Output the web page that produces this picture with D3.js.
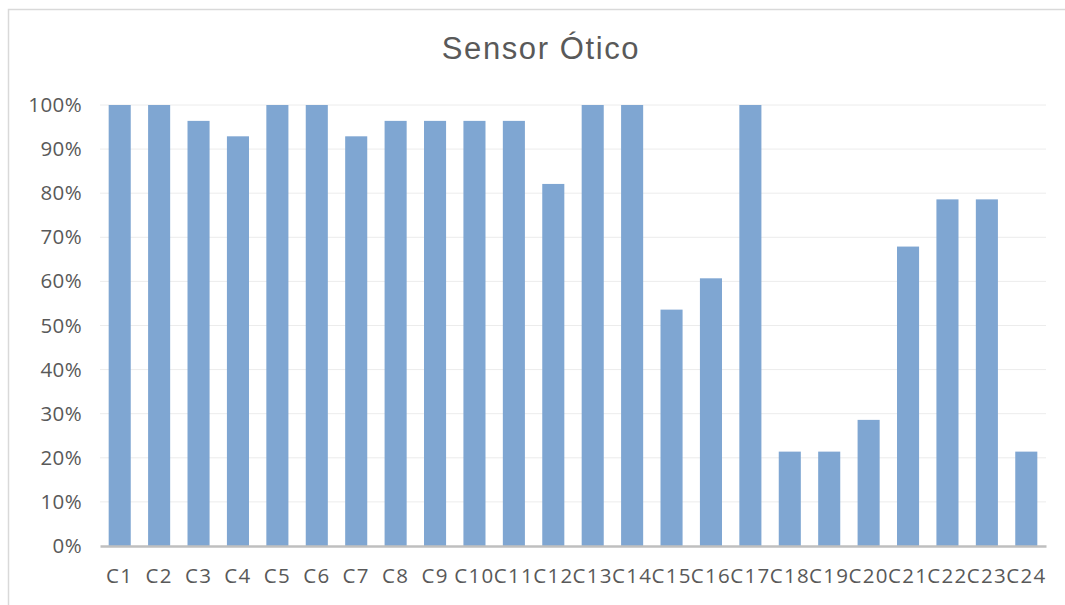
<!DOCTYPE html>
<html>
<head>
<meta charset="utf-8">
<script src="https://cdn.jsdelivr.net/npm/d3@7"></script>
<style>
  body { margin: 0; background: #fff; }
  text { font-family: "Open Sans", sans-serif; fill: #595959; }
</style>
</head>
<body>
<div id="main-container"></div>
<script>
const WIDTH = 1065;
const HEIGHT = 605;
const TITLE = 'Sensor Ótico';
const BAR_COLOR = '#7fa6d2';

const CATEGORIES = ['C1', 'C2', 'C3', 'C4', 'C5', 'C6', 'C7', 'C8', 'C9', 'C10', 'C11', 'C12',
  'C13', 'C14', 'C15', 'C16', 'C17', 'C18', 'C19', 'C20', 'C21', 'C22', 'C23', 'C24'];
const VALUES = [1.00, 1.00, 0.964, 0.929, 1.00, 1.00, 0.929, 0.964, 0.964, 0.964, 0.964, 0.821,
  1.00, 1.00, 0.536, 0.607, 1.00, 0.214, 0.214, 0.286, 0.679, 0.786, 0.786, 0.214];
const Y_TICKS = [0, 0.1, 0.2, 0.3, 0.4, 0.5, 0.6, 0.7, 0.8, 0.9, 1.0];

const LEFT = 100, RIGHT = 1046, TOP = 105, BOTTOM = 546;

const X_SCALE = d3.scaleBand()
  .domain(CATEGORIES)
  .range([LEFT, RIGHT])
  .paddingInner(0.44)
  .paddingOuter(0.22);

const Y_SCALE = d3.scaleLinear()
  .domain([0, 1])
  .range([BOTTOM, TOP]);

const SVG = d3.select('#main-container')
  .append('svg')
  .attr('width', WIDTH)
  .attr('height', HEIGHT);

// chart frame (open to the right and bottom, like the crop)
SVG.append('path')
  .attr('d', `M8.5,${HEIGHT} V9.5 H${WIDTH}`)
  .attr('fill', 'none')
  .attr('stroke', '#d9d9d9')
  .attr('stroke-width', 1.5);

// title
SVG.append('text')
  .attr('x', 541)
  .attr('y', 59)
  .attr('text-anchor', 'middle')
  .style('font-family', '"Liberation Sans", Arial, sans-serif')
  .style('font-size', '31px')
  .style('letter-spacing', '1.6px')
  .text(TITLE);

// gridlines
SVG.append('g')
  .selectAll('line')
  .data(Y_TICKS.filter(d => d > 0))
  .join('line')
  .attr('x1', LEFT)
  .attr('x2', RIGHT)
  .attr('y1', d => Y_SCALE(d))
  .attr('y2', d => Y_SCALE(d))
  .attr('stroke', '#ececec')
  .attr('stroke-width', 1);

// bars
SVG.append('g')
  .selectAll('rect')
  .data(VALUES)
  .join('rect')
  .attr('x', (d, i) => X_SCALE(CATEGORIES[i]))
  .attr('y', d => Y_SCALE(d))
  .attr('width', X_SCALE.bandwidth())
  .attr('height', d => Y_SCALE(0) - Y_SCALE(d))
  .attr('fill', BAR_COLOR);

// y axis
const Y_AXIS = d3.axisLeft(Y_SCALE)
  .tickValues(Y_TICKS)
  .tickFormat(d3.format('.0%'))
  .tickSize(0)
  .tickPadding(18);
SVG.append('g')
  .attr('transform', `translate(${LEFT}, 0)`)
  .call(Y_AXIS)
  .call(g => g.select('.domain').remove())
  .selectAll('text')
  .style('font-size', '20.5px')
  .style('letter-spacing', '0.4px')
  .attr('fill', '#595959');

// x axis
const X_AXIS = d3.axisBottom(X_SCALE)
  .tickSize(0)
  .tickPadding(22);
SVG.append('g')
  .attr('transform', `translate(0, ${BOTTOM})`)
  .call(X_AXIS)
  .call(g => g.select('.domain')
    .attr('stroke', '#bfbfbf')
    .attr('stroke-width', 2.5))
  .selectAll('text')
  .style('font-size', '20.5px')
  .style('letter-spacing', '1.3px')
  .attr('fill', '#595959');
</script>
</body>
</html>
